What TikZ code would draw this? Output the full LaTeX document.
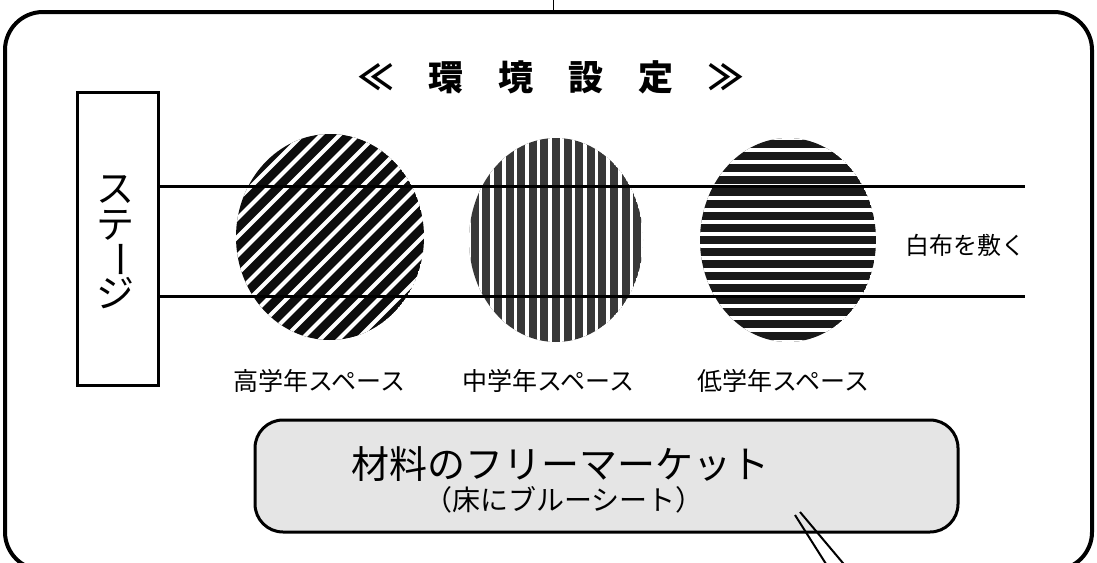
\documentclass[tikz,border=0pt]{standalone}
\usepackage{fontspec}
\setmainfont{Noto Sans CJK JP}
\newfontfamily\jp{Noto Sans CJK JP}
\begin{document}
\begin{tikzpicture}[x=0.5pt,y=-0.5pt,
  txt/.style={inner sep=0pt, anchor=center, font=\jp\fontsize{12.5}{14}\selectfont},
  bigtxt/.style={txt, font=\jp\fontsize{19}{21}\selectfont},
  titletxt/.style={txt, font=\jp\bfseries\fontsize{17.5}{20}\selectfont},
  stagech/.style={txt, font=\jp\fontsize{19}{21}\selectfont},
  frameline/.style={line width=2pt, rounded corners=19pt},
  stagebox/.style={draw, line width=1.5pt, minimum width=40.5pt, minimum height=146.5pt, inner sep=0pt},
  clothline/.style={line width=1.5pt},
  gap/.style={white, line width=1.75pt},
  widegap/.style={white, line width=2pt},
  marketbox/.style={draw, line width=1.5pt, rounded corners=14pt, fill=black!10, minimum width=351.5pt, minimum height=56pt, inner sep=0pt},
  pointer/.style={line width=1pt}]
\useasboundingbox (0,0) rectangle (1097,562);
\begin{scope}
\clip (0,0) rectangle (1097,562);
% outer frame
\draw[frameline] (5,12) rectangle (1092,570);
\coordinate (topa) at (553,0);
\coordinate (topb) at (553,12);
\draw[line width=0.5pt] (topa) -- (topb);

% title
\node[titletxt] (title) at (551,77) {≪\hspace{1em}環\hspace{1em}境\hspace{1em}設\hspace{1em}定\hspace{1em}≫};

% circles
\coordinate (c1) at (330,237);
\coordinate (c2) at (556,240);
\coordinate (c3) at (788,240);
\begin{scope}
\clip (c1) ellipse [x radius=47pt, y radius=51.5pt];
\fill[black!95] (c1) ellipse [x radius=47pt, y radius=51.5pt];
\foreach \t in {-12,...,12} \draw[widegap] (c1) ++(\t*18.5-150,150) -- ++(300,-300);
\end{scope}
\begin{scope}
\clip (c2) ellipse [x radius=43.5pt, y radius=51pt];
\fill[black!78] (c2) ellipse [x radius=43.5pt, y radius=51pt];
\foreach \k in {-9,...,8} \draw[gap] (c2) ++(\k*11.6+5.8,-110) -- ++(0,220);
\end{scope}
\begin{scope}
\clip (c3) ellipse [x radius=44pt, y radius=51pt];
\fill[black!90] (c3) ellipse [x radius=44pt, y radius=51pt];
\foreach \k in {-10,...,9} \draw[gap] (c3) ++(-100,\k*12+6) -- ++(200,0);
\end{scope}

% stage
\node[stagebox] (stage) at (117.5,238.5) {};
\node[stagech] (s1) at (115,190) {ス};
\node[stagech] (s2) at (115,225) {テ};
\node[stagech, rotate=-90] (s3) at (115,259) {ー};
\node[stagech] (s4) at (115,293) {ジ};

% cloth lines
\coordinate (l1) at (1025,186);
\coordinate (l2) at (1025,296);
\draw[clothline] (stage.east |- l1) -- (l1);
\draw[clothline] (stage.east |- l2) -- (l2);
\node[txt, font=\jp\fontsize{12}{14}\selectfont] (cloth) at (965,245) {白布を敷く};

% labels
\node[txt] (lab1) at (319,381) {高学年スペース};
\node[txt] (lab2) at (548,381) {中学年スペース};
\node[txt] (lab3) at (783,381) {低学年スペース};

% market box
\node[marketbox] (market) at (606.5,476) {};
\node[bigtxt] (m1) at (560,464) {材料のフリーマーケット};
\node[txt, font=\jp\fontsize{14}{16}\selectfont] (m2) at (564,500) {（床にブルーシート）};

% pointer
\coordinate (pa) at (795,515);
\coordinate (pb) at (800,512);
\coordinate (pc) at (833,575);
\coordinate (pd) at (853,575);
\draw[pointer] (pa) -- (pc);
\draw[pointer] (pb) -- (pd);
\end{scope}
\end{tikzpicture}
\end{document}
